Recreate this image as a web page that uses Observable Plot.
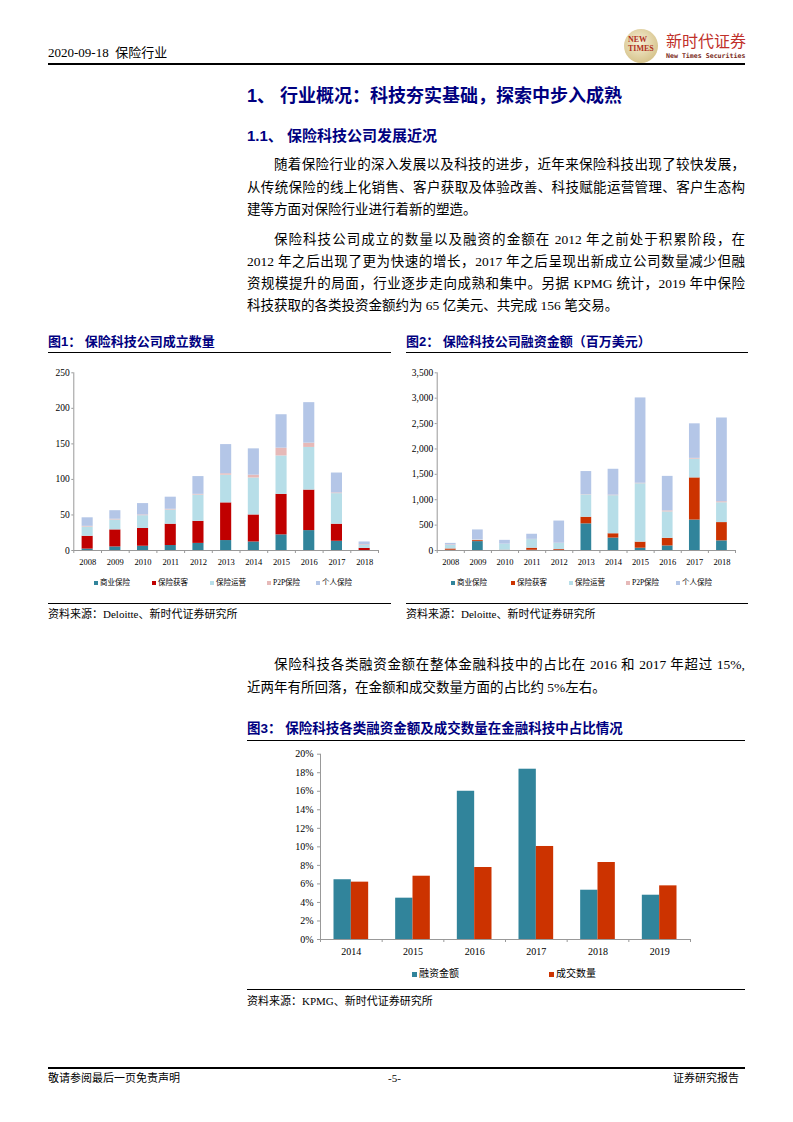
<!DOCTYPE html>
<html><head><meta charset="utf-8">
<script src="https://cdn.jsdelivr.net/npm/d3@7"></script>
<script src="https://cdn.jsdelivr.net/npm/@observablehq/plot@0.6"></script>
<style>
body{margin:0;background:#fff;}
#page{position:relative;width:793px;height:1122px;overflow:hidden;font-family:"Liberation Serif","Noto Sans CJK SC",serif;color:#000;}
.abs{position:absolute;white-space:nowrap;}
.ln{position:absolute;left:247px;width:498px;font-size:13.5px;line-height:18px;text-align:justify;text-align-last:justify;}
.ln.ind{left:274px;width:471px;}
.ln.last{text-align-last:left;}
.h{color:#000080;font-family:"Liberation Sans","Noto Sans CJK SC",sans-serif;font-weight:bold;}
.rule{position:absolute;background:#000;height:1px;}
.src{position:absolute;font-size:11px;line-height:14px;white-space:nowrap;}
.leg{position:absolute;white-space:nowrap;line-height:10px;}
.leg span.sw{display:inline-block;vertical-align:middle;margin-right:2px;}
.chart{position:absolute;}
</style></head>
<body><div id="page">
<div class="abs" style="left:48px;top:45px;font-size:13px;line-height:16px;">2020-09-18&nbsp; 保险行业</div>
<div class="abs" style="left:624px;top:29px;width:34px;height:34px;border-radius:50%;background:radial-gradient(circle at 45% 40%,#f6efd6,#d8c690 70%,#c4ad6c);"></div>
<div class="abs" style="left:628px;top:36px;font-size:8px;line-height:8px;color:#b03020;font-weight:bold;font-family:'Liberation Serif',serif;">NEW</div>
<div class="abs" style="left:628px;top:45px;font-size:8px;line-height:8px;color:#b03020;font-weight:bold;font-family:'Liberation Serif',serif;">TIMES</div>
<div class="abs" style="left:666px;top:33px;font-size:16px;line-height:18px;color:#c0302a;">新时代证券</div>
<div class="abs" style="left:666px;top:52px;font-size:6.6px;line-height:9px;color:#7a2a20;font-family:'DejaVu Sans Mono',monospace;font-weight:bold;">New Times Securities</div>
<div class="rule" style="left:48px;top:63px;width:697px;height:1.5px;"></div>

<div class="abs h" style="left:247px;top:85px;font-size:18px;line-height:22px;">1、 行业概况：科技夯实基础，探索中步入成熟</div>
<div class="abs h" style="left:247px;top:127px;font-size:15px;line-height:18px;">1.1、 保险科技公司发展近况</div>

<div class="ln ind" style="top:156px;">随着保险行业的深入发展以及科技的进步，近年来保险科技出现了较快发展，</div>
<div class="ln" style="top:179px;">从传统保险的线上化销售、客户获取及体验改善、科技赋能运营管理、客户生态构</div>
<div class="ln last" style="top:201px;">建等方面对保险行业进行着新的塑造。</div>

<div class="ln ind" style="top:231px;">保险科技公司成立的数量以及融资的金额在 2012 年之前处于积累阶段，在</div>
<div class="ln" style="top:253px;">2012 年之后出现了更为快速的增长，2017 年之后呈现出新成立公司数量减少但融</div>
<div class="ln" style="top:275px;">资规模提升的局面，行业逐步走向成熟和集中。另据 KPMG 统计，2019 年中保险</div>
<div class="ln last" style="top:297px;">科技获取的各类投资金额约为 65 亿美元、共完成 156 笔交易。</div>

<div class="abs h" style="left:48px;top:334px;font-size:13px;line-height:16px;">图1： 保险科技公司成立数量</div>
<div class="abs h" style="left:406px;top:334px;font-size:13px;line-height:16px;">图2： 保险科技公司融资金额（百万美元）</div>
<div class="rule" style="left:48px;top:352px;width:343px;"></div>
<div class="rule" style="left:406px;top:352px;width:342px;"></div>

<div class="chart" id="c1" style="left:40px;top:360px;"></div>
<div class="chart" id="c2" style="left:400px;top:360px;"></div>
<div id="leg1"></div><div id="leg2"></div>

<div class="rule" style="left:48px;top:603px;width:343px;"></div>
<div class="rule" style="left:406px;top:603px;width:342px;"></div>
<div class="src" style="left:48px;top:607px;">资料来源：Deloitte、新时代证券研究所</div>
<div class="src" style="left:406px;top:607px;">资料来源：Deloitte、新时代证券研究所</div>

<div class="ln ind" style="top:656px;">保险科技各类融资金额在整体金融科技中的占比在 2016 和 2017 年超过 15%,</div>
<div class="ln last" style="top:679px;">近两年有所回落，在金额和成交数量方面的占比约 5%左右。</div>

<div class="abs h" style="left:247px;top:721px;font-size:13.5px;line-height:16px;">图3： 保险科技各类融资金额及成交数量在金融科技中占比情况</div>
<div class="rule" style="left:247px;top:740px;width:498px;"></div>
<div class="chart" id="c3" style="left:240px;top:745px;"></div>
<div id="leg3"></div>
<div class="rule" style="left:247px;top:989px;width:498px;"></div>
<div class="src" style="left:247px;top:994px;">资料来源：KPMG、新时代证券研究所</div>

<div class="rule" style="left:48px;top:1067px;width:697px;height:1.5px;"></div>
<div class="src" style="left:48px;top:1071px;">敬请参阅最后一页免责声明</div>
<div class="src" style="left:388px;top:1071px;">-5-</div>
<div class="src" style="left:673px;top:1071px;">证券研究报告</div>
</div>
<script>
// ---- Data ----
const years = [2008, 2009, 2010, 2011, 2012, 2013, 2014, 2015, 2016, 2017, 2018];
const seriesNames = ["商业保险", "保险获客", "保险运营", "P2P保险", "个人保险"];
// Figure 1: number of insurtech companies founded
const countCommercial = [2, 5, 6, 7, 10, 14, 12, 22, 28, 13, 0];
const countAcquisition = [18, 24, 25, 30, 31, 53, 38, 57, 57, 24, 3];
const countOperations = [13, 14, 18, 20, 37, 39, 52, 54, 60, 43, 4];
const countP2P = [1, 1, 1, 1, 1, 2, 4, 11, 6, 1, 1];
const countPersonal = [12, 12, 16, 17, 25, 41, 37, 47, 57, 28, 4];
// Figure 2: funding (USD million)
const fundCommercial = [5, 175, 0, 5, 5, 525, 245, 45, 90, 600, 190];
const fundAcquisition = [25, 20, 5, 40, 15, 130, 85, 120, 150, 830, 360];
const fundOperations = [70, 10, 120, 170, 118, 440, 750, 1150, 520, 370, 390];
const fundP2P = [10, 5, 0, 5, 5, 5, 10, 10, 20, 15, 20];
const fundPersonal = [30, 195, 75, 100, 437, 455, 510, 1680, 680, 680, 1650];
// Figure 3: share in fintech (%)
const years3 = [2014, 2015, 2016, 2017, 2018, 2019];
const series3 = ["融资金额", "成交数量"];
const shareAmount = [6.45, 4.46, 16.0, 18.38, 5.32, 4.78];
const shareDeals = [6.19, 6.83, 7.77, 10.04, 8.31, 5.79];
// Tick values
const ticks1 = [0, 50, 100, 150, 200, 250];
const ticks2 = [0, 500, 1000, 1500, 2000, 2500, 3000, 3500];
const ticks3 = [0, 2, 4, 6, 8, 10, 12, 14, 16, 18, 20];

const colors1 = ["#31849B", "#C00000", "#B7DEE8", "#E6B9B8", "#B4C6E7"];
const colors2 = ["#31849B", "#CC3300", "#B7DEE8", "#E6B9B8", "#B4C6E7"];
const colors3 = ["#31849B", "#CC3300"];

function stacked(values, colors, ticks, fmt, opts) {
  const data = [];
  years.forEach((yr, i) => seriesNames.forEach((s, j) => data.push({year: yr, series: s, value: values[j][i]})));
  const bounds = years.map(y => y - 0.5).concat([years[years.length - 1] + 0.5]);
  return Plot.plot({
    width: opts.width, height: opts.height,
    marginTop: opts.mt, marginBottom: opts.mb, marginLeft: opts.ml, marginRight: opts.mr,
    style: {fontFamily: "Liberation Serif, serif", fontSize: "9px", background: "transparent", overflow: "visible"},
    x: {domain: [bounds[0], bounds[bounds.length - 1]], axis: null},
    y: {domain: [ticks[0], ticks[ticks.length - 1]], axis: null},
    color: {domain: seriesNames, range: colors},
    marks: [
      Plot.rectY(data, {x1: d => d.year - 0.5, x2: d => d.year + 0.5, y: "value", fill: "series", insetLeft: opts.inset, insetRight: opts.inset}),
      Plot.ruleY([ticks[0]], {stroke: "#999"}),
      Plot.ruleX([bounds[0]], {y1: ticks[0], y2: ticks[ticks.length - 1], stroke: "#999"}),
      Plot.axisY({ticks, label: null, tickSize: 2, tickPadding: 2, stroke: "#999", fill: "#000", tickFormat: fmt, fontSize: 9.5}),
      Plot.axisX({ticks: bounds, label: null, tickSize: 3, tickFormat: () => "", stroke: "#999"}),
      Plot.axisX({ticks: years, label: null, tickSize: 0, tickPadding: 8, tickFormat: d => String(d), fill: "#000", fontSize: 8.5})
    ]
  });
}

document.getElementById("c1").appendChild(stacked(
  [countCommercial, countAcquisition, countOperations, countP2P, countPersonal],
  colors1, ticks1, d => String(d),
  {width: 345, height: 215, mt: 12.3, mb: 25, ml: 33.3, mr: 7, inset: 8.3}));
document.getElementById("c2").appendChild(stacked(
  [fundCommercial, fundAcquisition, fundOperations, fundP2P, fundPersonal],
  colors2, ticks2, d3.format(","),
  {width: 345, height: 215, mt: 12.3, mb: 25, ml: 36.7, mr: 10, inset: 8.2}));

// Figure 3
const data3 = years3.map((y, i) => ({year: y, amount: shareAmount[i], deals: shareDeals[i]}));
const bounds3 = years3.map(y => y - 0.5).concat([years3[years3.length - 1] + 0.5]);
document.getElementById("c3").appendChild(Plot.plot({
  width: 460, height: 215, marginTop: 8.7, marginBottom: 21, marginLeft: 80, marginRight: 10,
  style: {fontFamily: "Liberation Serif, serif", fontSize: "10px", background: "transparent", overflow: "visible"},
  x: {domain: [bounds3[0], bounds3[bounds3.length - 1]], axis: null},
  y: {domain: [ticks3[0], ticks3[ticks3.length - 1]], axis: null},
  marks: [
    Plot.rectY(data3, {x1: d => d.year - 0.5, x2: d => d.year, y: "amount", fill: colors3[0], insetLeft: 13.5}),
    Plot.rectY(data3, {x1: d => d.year, x2: d => d.year + 0.5, y: "deals", fill: colors3[1], insetRight: 13.5}),
    Plot.ruleY([0], {stroke: "#999"}),
    Plot.ruleX([bounds3[0]], {y1: ticks3[0], y2: ticks3[ticks3.length - 1], stroke: "#999"}),
    Plot.axisY({ticks: ticks3, label: null, tickSize: 3, tickPadding: 4, stroke: "#999", fill: "#000", tickFormat: d => d + "%", fontSize: 10}),
    Plot.axisX({ticks: bounds3, label: null, tickSize: 3, tickFormat: () => "", stroke: "#999"}),
    Plot.axisX({ticks: years3, label: null, tickSize: 0, tickPadding: 8, tickFormat: d => String(d), fill: "#000", fontSize: 10})
  ]
}));

// Legends
function legend(id, names, colors, lefts, top, fontSize, sw) {
  const host = document.getElementById(id);
  names.forEach((n, i) => {
    const el = document.createElement("div");
    el.className = "leg";
    el.style.left = lefts[i] + "px";
    el.style.top = top + "px";
    el.style.fontSize = fontSize + "px";
    el.innerHTML = `<span class="sw" style="width:${sw}px;height:${sw}px;background:${colors[i]}"></span>${n}`;
    host.appendChild(el);
  });
}
legend("leg1", seriesNames, colors1, [94, 152, 210, 267, 316], 578, 7.5, 4);
legend("leg2", seriesNames, colors2, [451, 511, 569, 626, 676], 578, 7.5, 4);
legend("leg3", series3, colors3, [412, 549], 969, 10, 5);
</script>
</body></html>
